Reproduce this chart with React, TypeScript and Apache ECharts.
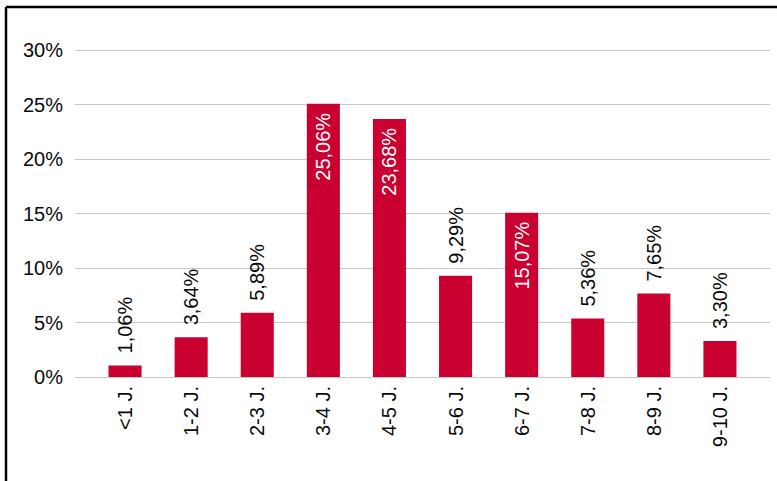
import React, { useEffect, useRef } from "react";
import * as echarts from "echarts";

const categories = ["<1 J.", "1-2 J.", "2-3 J.", "3-4 J.", "4-5 J.", "5-6 J.", "6-7 J.", "7-8 J.", "8-9 J.", "9-10 J."];
const values = [1.06, 3.64, 5.89, 25.06, 23.68, 9.29, 15.07, 5.36, 7.65, 3.3];
const yTicks = [0, 5, 10, 15, 20, 25, 30];

const FONT = '"Liberation Sans", Arial, Helvetica, sans-serif';
const BAR = "#C90030";
const FS = 20;

export default function App() {
  const ref = useRef<HTMLDivElement>(null);
  useEffect(() => {
    if (!ref.current) return;
    const chart = echarts.init(ref.current, undefined, { renderer: "svg" });
    const fmt = (v: number) => v.toFixed(2).replace(".", ",") + "%";
    const yMin = yTicks[0];
    const yMax = yTicks[yTicks.length - 1];
    const yInt = yTicks[1] - yTicks[0];
    chart.setOption({
      animation: false,
      backgroundColor: "#ffffff",
      grid: [
        { left: 75, right: 7, top: 50, bottom: 104 },
        { left: 92, right: 24, top: 50, bottom: 104 },
      ],
      xAxis: [
        { gridIndex: 0, type: "value", show: false, min: 0, max: 1 },
        {
          gridIndex: 1,
          type: "category",
          data: categories,
          axisLine: { show: false },
          axisTick: { show: false },
          axisLabel: {
            rotate: 90,
            margin: 9,
            fontSize: FS,
            color: "#0a0a0a",
            fontFamily: FONT,
            interval: 0,
          },
        },
      ],
      yAxis: [
        {
          gridIndex: 0,
          type: "value",
          min: yMin,
          max: yMax,
          interval: yInt,
          axisLine: { show: false },
          axisTick: { show: false },
          axisLabel: {
            formatter: "{value}%",
            margin: 12,
            fontSize: FS,
            color: "#0a0a0a",
            fontFamily: FONT,
          },
          splitLine: { lineStyle: { color: "#c8c8c8", width: 1 } },
        },
        {
          gridIndex: 1,
          type: "value",
          min: yMin,
          max: yMax,
          interval: yInt,
          show: false,
          splitLine: { show: false },
        },
      ],
      series: [
        {
          type: "bar",
          xAxisIndex: 1,
          yAxisIndex: 1,
          barWidth: "50%",
          itemStyle: { color: BAR },
          data: values.map((v) => {
            const inside = v > 12;
            return {
              value: v,
              label: inside
                ? {
                    show: true,
                    position: "insideTop",
                    rotate: 90,
                    align: "right",
                    verticalAlign: "middle",
                    distance: 9,
                    color: "#ffffff",
                    fontSize: FS,
                    fontFamily: FONT,
                    formatter: () => fmt(v),
                  }
                : {
                    show: true,
                    position: "top",
                    rotate: 90,
                    align: "left",
                    verticalAlign: "middle",
                    distance: 12,
                    color: "#0a0a0a",
                    fontSize: FS,
                    fontFamily: FONT,
                    formatter: () => fmt(v),
                  },
            };
          }),
        },
      ],
      graphic: [
        { type: "line", shape: { x1: 6, y1: 7, x2: 777, y2: 7 }, style: { stroke: "#000", lineWidth: 2.5 } },
        { type: "line", shape: { x1: 6, y1: 7, x2: 6, y2: 481 }, style: { stroke: "#000", lineWidth: 2.5 } },
      ],
    });
    return () => chart.dispose();
  }, []);
  return (
    <div
      ref={ref}
      style={{ position: "fixed", left: 0, top: 0, width: 777, height: 481, background: "#fff" }}
    />
  );
}
